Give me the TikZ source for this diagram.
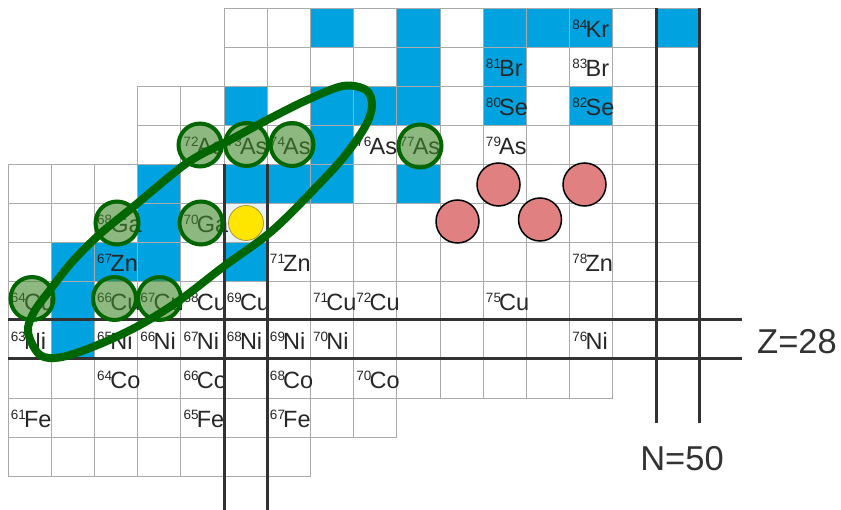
\documentclass[tikz,border=0pt]{standalone}
\usepackage{fontspec}
\setmainfont{Liberation Sans}
\definecolor{cellblue}{RGB}{0,163,224}
\definecolor{paleblue}{RGB}{234,243,248}
\definecolor{gridgray}{RGB}{170,170,170}
\definecolor{thickgray}{RGB}{50,50,50}
\definecolor{txt}{RGB}{38,38,38}
\definecolor{dkgreen}{RGB}{0,102,0}
\definecolor{gfill}{RGB}{65,137,43}
\definecolor{rfill}{RGB}{224,128,128}
\definecolor{yfill}{RGB}{255,230,0}
\definecolor{yedge}{RGB}{168,150,60}
\newcommand\iso[2]{\raisebox{7.6pt}{\fontsize{13.5}{13.5}\selectfont #1}\kern-1.8pt{\fontsize{23.5}{23.5}\selectfont #2}}
\tikzset{
  gridline/.style={draw=gridgray, line width=0.8pt},
  bluecell/.style={fill=cellblue},
  thickline/.style={draw=thickgray, line width=3pt},
  lab/.style={anchor=base west, inner sep=0pt, text=txt},
  gcirc/.style={circle, minimum size=43pt, inner sep=0pt, draw=dkgreen, line width=4pt, fill=gfill, fill opacity=0.6},
  rcirc/.style={circle, minimum width=43pt, minimum height=41pt, inner sep=0pt, draw=black, line width=1.5pt, fill=rfill},
  ycirc/.style={circle, minimum size=35pt, inner sep=0pt, draw=yedge, line width=0.8pt, fill=yfill},
  bigell/.style={draw=dkgreen, line width=8pt},
  magic/.style={inner sep=0pt, text=thickgray, font=\fontsize{34.5}{34.5}\selectfont}
}
\begin{document}
\begin{tikzpicture}[x=1pt,y=-1pt]
\useasboundingbox (0,0) rectangle (841,510);
\fill[white] (0,0) rectangle (841,510);
\begin{scope}[shift={(8,8)}, x=43.2pt, y=-39pt]
  % blue cells (stable)
  \foreach \c/\r in {7/0,9/0,11/0,12/0,13/0,15/0, 9/1,11/1,
      5/2,7/2,8/2,9/2,11/2,13/2, 7/3, 3/4,5/4,6/4,7/4,9/4,
      3/5, 1/6,2/6,3/6,5/6, 1/7, 1/8}
    \fill[bluecell] (\c,\r) rectangle ++(1,1);
  \fill[paleblue] (5,5) rectangle ++(1,1);
  % grid
  \foreach \r/\a/\b in {0/5/15,1/5/15,2/3/15,3/3/15,4/0/15,5/0/15,6/0/15,7/0/15,8/0/15,9/0/13,10/0/8,11/0/6}
    \foreach \c in {\a,...,\b}
      \draw[gridline] (\c,\r) rectangle ++(1,1);
  % labels
  \foreach \c/\r/\m/\s in {13/0/84/Kr, 11/1/81/Br, 13/1/83/Br, 11/2/80/Se, 13/2/82/Se,
      4/3/72/As, 5/3/73/As, 6/3/74/As, 8/3/76/As, 9/3/77/As, 11/3/79/As,
      2/5/68/Ga, 4/5/70/Ga, 2/6/67/Zn, 6/6/71/Zn, 13/6/78/Zn,
      0/7/64/Cu, 2/7/66/Cu, 3/7/67/Cu, 4/7/68/Cu, 5/7/69/Cu, 7/7/71/Cu, 8/7/72/Cu, 11/7/75/Cu,
      0/8/63/Ni, 2/8/65/Ni, 3/8/66/Ni, 4/8/67/Ni, 5/8/68/Ni, 6/8/69/Ni, 7/8/70/Ni, 13/8/76/Ni,
      2/9/64/Co, 4/9/66/Co, 6/9/68/Co, 8/9/70/Co, 0/10/61/Fe, 4/10/65/Fe, 6/10/67/Fe}
    \node[lab] (L\m\s) at (\c+0.06,\r+0.75) {\iso{\m}{\s}};
\end{scope}
% magic number lines
\coordinate (za1) at (8,320); \coordinate (za2) at (742,320);
\coordinate (zb1) at (8,359); \coordinate (zb2) at (742,359);
\coordinate (na1) at (224,164); \coordinate (na2) at (224,510);
\coordinate (nb1) at (267.2,164); \coordinate (nb2) at (267.2,510);
\coordinate (nc1) at (656,8); \coordinate (nc2) at (656,423);
\coordinate (nd1) at (699,8); \coordinate (nd2) at (699,423);
\draw[thickline] (za1) -- (za2);
\draw[thickline] (zb1) -- (zb2);
\draw[thickline] (na1) -- (na2);
\draw[thickline] (nb1) -- (nb2);
\draw[thickline] (nc1) -- (nc2);
\draw[thickline] (nd1) -- (nd2);
\node[magic] (Zlab) at (797,342) {Z=28};
\node[magic] (Nlab) at (682,459) {N=50};
% yellow
\node[ycirc] (yel) at (246,223) {};
% green circles
\node[gcirc] (g72As) at (200,145) {};
\node[gcirc] (g73As) at (246.5,144.5) {};
\node[gcirc] (g74As) at (292,144.5) {};
\node[gcirc] (g77As) at (420,146) {};
\node[gcirc] (g68Ga) at (117,223) {};
\node[gcirc] (g70Ga) at (201,223) {};
\node[gcirc] (g64Cu) at (32,298.5) {};
\node[gcirc] (g66Cu) at (114.5,298.5) {};
\node[gcirc] (g67Cu) at (159.5,298.5) {};
% red circles
\node[rcirc] (r1) at (457.5,221.5) {};
\node[rcirc] (r2) at (498.5,184.5) {};
\node[rcirc] (r3) at (540,219.5) {};
\node[rcirc] (r4) at (584.5,184.5) {};
% big ellipse
\draw[bigell] plot[smooth cycle, tension=0.55] coordinates {
  (28,332) (34,312) (50,290) (72,262) (100,234) (133,207) (187,163) (230,140)
  (267,120) (307,100) (343,86) (366,90) (372,105) (366,125) (347,153) (323,180)
  (273,230) (223,267) (180,300) (140,325) (100,344) (62,357) (40,355)};
\end{tikzpicture}
\end{document}
